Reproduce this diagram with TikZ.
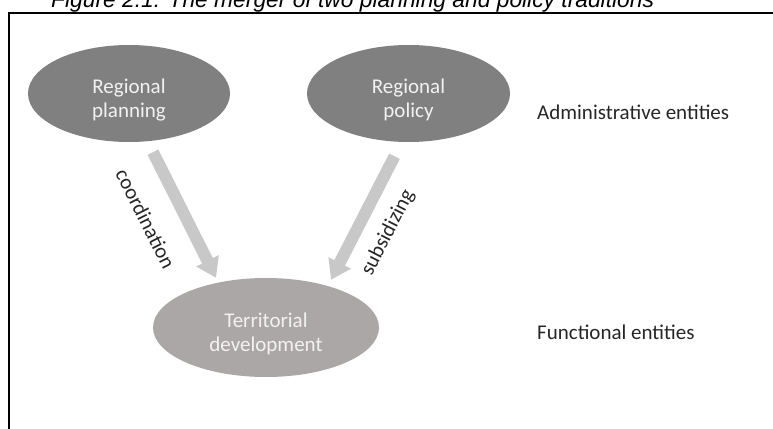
\documentclass[tikz,border=0pt]{standalone}
\usepackage{fontspec}
\setmainfont{Carlito}
\newfontfamily\capfont{Liberation Sans}
\usetikzlibrary{shapes.geometric,arrows.meta}
\definecolor{darkent}{HTML}{808080}
\definecolor{lightent}{HTML}{ABA7A6}
\definecolor{flowgray}{HTML}{C8C8C8}
\definecolor{enttext}{HTML}{F2F2F2}
\newcommand\enttxt[1]{\raisebox{-12pt}[0pt][0pt]{\begin{tabular}{@{}c@{}}#1\end{tabular}}}

\begin{document}
\begin{tikzpicture}[x=1pt, y=-1pt,
    entity/.style={ellipse, inner sep=0pt, text=enttext, font=\fontsize{21}{24}\selectfont},
    flow/.style={draw=flowgray, line width=12pt, -{Triangle[width=24pt,length=19pt]}},
    tag/.style={font=\fontsize{21}{24}\selectfont, text=black!85},
    level/.style={anchor=base west, inner sep=0pt, font=\fontsize{21}{24}\selectfont, text=black!85}]
  \useasboundingbox (0,0) rectangle (773,428);
  \node (cap) [anchor=base west, inner sep=0pt, font=\capfont\itshape\fontsize{22.8}{26}\selectfont] at (51,8) {Figure 2.1: The merger of two planning and policy traditions};
  \draw [line width=2.2pt] (8.7,440) |- (790,13.3);

  \node (plan) [entity, fill=darkent, minimum width=202pt, minimum height=97pt] at (129,93.5) {\enttxt{Regional\\planning}};
  \node (pol) [entity, fill=darkent, minimum width=203pt, minimum height=97pt] at (408.5,93.5) {\enttxt{Regional\\policy}};
  \node (terr) [entity, fill=lightent, minimum width=226pt, minimum height=99pt] at (266,327.5) {\enttxt{Territorial\\development}};

  \draw [flow] ([xshift=24pt,yshift=-10pt]plan.south) -- node (coord) [tag, pos=0.4, sloped, anchor=north, inner sep=23pt] {coordination} ([xshift=-50pt]terr.north);
  \draw [flow] ([xshift=-14pt,yshift=-14pt]pol.south) -- node (subs) [tag, pos=0.51, sloped, anchor=north, inner sep=14pt] {subsidizing} ([xshift=65pt,yshift=-2pt]terr.north);

  \node (admin) [level] at (537,119) {Administrative entities};
  \node (func) [level] at (537,339) {Functional entities};
\end{tikzpicture}
\end{document}
